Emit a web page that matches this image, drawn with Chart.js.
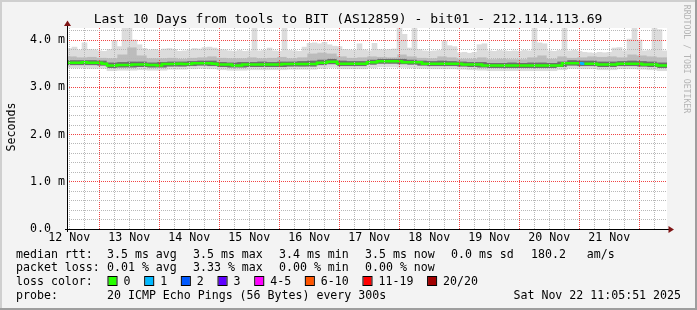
<!DOCTYPE html>
<html lang="en">
<head>
  <meta charset="UTF-8" />
  <title>Last 10 Days from tools to BIT (AS12859) - bit01</title>
  <script src="https://cdn.jsdelivr.net/npm/chart.js"></script>
  <style>
    html, body { margin: 0; padding: 0; background: #f3f3f3; }
    canvas { display: block; }
  </style>
</head>
<body>
  <canvas id="smokeCanvas" width="697" height="310"></canvas>

  <script>
    // 10 days, 12 Nov 11:05:51 -> 22 Nov 11:05:51, x axis in hours since start
    const totalHours = 240;
    const firstNoon = 0.9025; // 12 Nov 12:00 in hours after start
    const dayLabels = ['12 Nov', '13 Nov', '14 Nov', '15 Nov', '16 Nov', '17 Nov', '18 Nov', '19 Nov', '20 Nov', '21 Nov'];
    const yLabels = ['0.0', '1.0 m', '2.0 m', '3.0 m', '4.0 m'];

    // median rtt (ms), one value per 2 hours
    const medianMs = [
      3.52, 3.52, 3.52, 3.53, 3.52, 3.52, 3.52, 3.50, 3.46, 3.46,
      3.47, 3.47, 3.47, 3.48, 3.48, 3.48, 3.47, 3.47, 3.46, 3.49,
      3.49, 3.49, 3.50, 3.49, 3.49, 3.51, 3.51, 3.51, 3.51, 3.50,
      3.48, 3.48, 3.48, 3.46, 3.46, 3.48, 3.48, 3.48, 3.48, 3.48,
      3.48, 3.48, 3.48, 3.49, 3.49, 3.49, 3.49, 3.49, 3.49, 3.49,
      3.52, 3.52, 3.54, 3.54, 3.50, 3.50, 3.50, 3.50, 3.50, 3.50,
      3.53, 3.53, 3.55, 3.55, 3.55, 3.55, 3.55, 3.53, 3.53, 3.53,
      3.53, 3.50, 3.50, 3.50, 3.50, 3.50, 3.50, 3.50, 3.50, 3.48,
      3.48, 3.48, 3.48, 3.46, 3.46, 3.46, 3.46, 3.46, 3.46, 3.46,
      3.46, 3.46, 3.46, 3.46, 3.46, 3.46, 3.46, 3.46, 3.46, 3.51,
      3.51, 3.51, 3.51, 3.50, 3.50, 3.50, 3.48, 3.48, 3.48, 3.48,
      3.50, 3.50, 3.50, 3.50, 3.50, 3.48, 3.48, 3.48, 3.46, 3.46
    ];
    // highest ping (top of the smoke), one value per 2 hours
    const smokeMax = [
      3.82, 3.85, 3.79, 3.94, 3.80, 3.79, 3.77, 3.76, 3.80, 3.98,
      3.86, 4.30, 4.30, 4.00, 3.90, 3.82, 3.79, 3.80, 3.78, 3.81,
      3.82, 3.80, 3.76, 3.77, 3.79, 3.82, 3.81, 3.84, 3.85, 3.83,
      3.80, 3.79, 3.77, 3.76, 3.78, 3.76, 3.77, 4.28, 3.77, 3.78,
      3.83, 3.77, 3.76, 4.26, 3.78, 3.77, 3.76, 3.85, 3.93, 3.94,
      3.92, 3.95, 3.90, 3.87, 3.86, 3.80, 3.79, 3.78, 3.92, 3.79,
      3.77, 3.93, 3.80, 3.79, 3.80, 3.81, 4.28, 4.12, 3.83, 4.26,
      3.80, 3.77, 3.76, 3.77, 3.78, 3.97, 3.88, 3.86, 3.73, 3.74,
      3.72, 3.74, 3.90, 3.92, 3.77, 3.76, 3.78, 3.77, 3.76, 3.77,
      3.76, 3.78, 3.77, 4.27, 3.94, 3.92, 3.77, 3.76, 3.78, 4.27,
      3.77, 3.78, 3.76, 3.74, 3.73, 3.72, 3.74, 3.73, 3.74, 3.83,
      3.84, 3.77, 4.02, 4.26, 4.00, 3.77, 3.78, 4.27, 4.22, 3.77
    ];
    // smoke bands, one value per 4 hours
    const smokeMin = [
      3.41, 3.41, 3.40, 3.40, 3.35, 3.36, 3.36, 3.37, 3.36, 3.36,
      3.38, 3.38, 3.39, 3.40, 3.39, 3.37, 3.36, 3.36, 3.37, 3.37,
      3.37, 3.37, 3.38, 3.38, 3.38, 3.40, 3.42, 3.39, 3.39, 3.39,
      3.41, 3.43, 3.43, 3.42, 3.41, 3.40, 3.39, 3.39, 3.39, 3.38,
      3.37, 3.36, 3.35, 3.35, 3.35, 3.35, 3.35, 3.35, 3.35, 3.37,
      3.40, 3.39, 3.39, 3.37, 3.37, 3.39, 3.39, 3.38, 3.37, 3.35
    ];
    const darkLow = [
      3.46, 3.46, 3.46, 3.45, 3.40, 3.41, 3.41, 3.42, 3.41, 3.41,
      3.43, 3.43, 3.44, 3.45, 3.44, 3.42, 3.41, 3.41, 3.42, 3.42,
      3.42, 3.42, 3.43, 3.43, 3.43, 3.46, 3.48, 3.44, 3.44, 3.44,
      3.47, 3.49, 3.49, 3.48, 3.47, 3.45, 3.44, 3.44, 3.44, 3.43,
      3.42, 3.41, 3.40, 3.40, 3.40, 3.40, 3.40, 3.40, 3.40, 3.42,
      3.45, 3.44, 3.44, 3.42, 3.42, 3.44, 3.44, 3.43, 3.42, 3.40
    ];
    const darkHigh = [
      3.58, 3.58, 3.58, 3.57, 3.53, 3.54, 3.55, 3.55, 3.53, 3.54,
      3.55, 3.55, 3.56, 3.57, 3.57, 3.54, 3.53, 3.54, 3.54, 3.55,
      3.54, 3.55, 3.55, 3.56, 3.57, 3.59, 3.61, 3.57, 3.56, 3.56,
      3.59, 3.61, 3.61, 3.61, 3.59, 3.57, 3.56, 3.57, 3.56, 3.55,
      3.54, 3.54, 3.52, 3.52, 3.53, 3.52, 3.53, 3.53, 3.52, 3.55,
      3.58, 3.57, 3.57, 3.55, 3.55, 3.56, 3.57, 3.56, 3.55, 3.53
    ];
    const midHigh = [
      3.66, 3.64, 3.65, 3.63, 3.62, 3.70, 3.85, 3.68, 3.62, 3.62,
      3.63, 3.61, 3.63, 3.64, 3.66, 3.63, 3.62, 3.62, 3.64, 3.62,
      3.63, 3.65, 3.62, 3.64, 3.72, 3.74, 3.72, 3.66, 3.63, 3.64,
      3.66, 3.65, 3.64, 3.70, 3.66, 3.63, 3.62, 3.66, 3.64, 3.61,
      3.61, 3.64, 3.60, 3.61, 3.60, 3.60, 3.64, 3.68, 3.61, 3.66,
      3.63, 3.64, 3.66, 3.65, 3.66, 3.64, 3.70, 3.68, 3.66, 3.64
    ];
    // columns (2 h) where the median had lost pings
    const lossColumns = [102];
    const lossPings = [1];

    const lossLabels = ['0', '1', '2', '3', '4-5', '6-10', '11-19', '20/20'];
    const lossColors = ['#26ff00', '#00b8ff', '#0059ff', '#5e00ff', '#ff00ff', '#ff5500', '#ff0000', '#a10000'];
    const rttStats = ['3.5 ms avg', '3.5 ms max', '3.4 ms min', '3.5 ms now', '0.0 ms sd', '180.2   am/s'];
    const lossStats = ['0.01 % avg', '3.33 % max', '0.00 % min', '0.00 % now'];

    const MONO = '"DejaVu Sans Mono", monospace';
    const GRID = '#b8b8b8';
    const MGRID = '#f04444';

    // build the library's datasets from the arrays
    const light2h = smokeMax.map((v, i) => ({ x: i * 2 + 1, y: [midHigh[i >> 1], v] }));
    const lightLow = smokeMin.map((v, j) => ({ x: j * 4 + 2, y: [v, darkLow[j]] }));
    const midBand = midHigh.map((v, j) => ({ x: j * 4 + 2, y: [darkHigh[j], v] }));
    const darkBand = darkHigh.map((v, j) => ({ x: j * 4 + 2, y: [darkLow[j], v] }));

    const lossAt = {};
    lossColumns.forEach((c, k) => { lossAt[c] = lossPings[k]; });
    const medianPts = [{ x: 0, y: medianMs[0], loss: 0 }]
      .concat(medianMs.map((v, i) => ({ x: i * 2 + 1, y: v, loss: lossAt[i] || 0 })))
      .concat([{ x: totalHours, y: medianMs[medianMs.length - 1], loss: 0 }]);

    function lossColor(n) {
      if (n === 0) return lossColors[0];
      if (n <= 3) return lossColors[n];
      if (n <= 5) return lossColors[4];
      if (n <= 10) return lossColors[5];
      if (n <= 19) return lossColors[6];
      return lossColors[7];
    }

    // grid every 6 hours (midnight lines red), every 0.2 ms (whole ms red)
    const xTicks = [];
    for (let k = 0; firstNoon + k * 6 <= totalHours; k++) xTicks.push(firstNoon + k * 6);
    const yTicks = [];
    for (let k = 0; k <= 21; k++) yTicks.push(k / 5);

    function bandSet(data, color, width) {
      return { type: 'bar', data: data, backgroundColor: color, borderWidth: 0,
               grouped: false, barThickness: width, order: 2 };
    }

    const decorations = {
      id: 'decorations',
      beforeDraw(chart) {
        const c = chart.ctx, a = chart.chartArea;
        c.save();
        c.fillStyle = '#f3f3f3';
        c.fillRect(0, 0, 697, 310);
        c.fillStyle = '#cfcfcf';
        c.fillRect(0, 0, 697, 2);
        c.fillRect(0, 0, 2, 310);
        c.fillStyle = '#9e9e9e';
        c.fillRect(695, 0, 2, 310);
        c.fillRect(0, 308, 697, 2);
        c.fillStyle = '#ffffff';
        c.fillRect(a.left, a.top, a.right - a.left, a.bottom - a.top);
        c.restore();
      },
      afterDraw(chart) {
        const c = chart.ctx, a = chart.chartArea;
        c.save();
        // axes with arrows
        c.strokeStyle = '#000';
        c.lineWidth = 1;
        c.beginPath();
        c.moveTo(a.left + 0.5, a.bottom + 3);
        c.lineTo(a.left + 0.5, 25);
        c.moveTo(a.left - 2, a.bottom + 0.5);
        c.lineTo(a.right + 2, a.bottom + 0.5);
        c.stroke();
        c.fillStyle = '#7f1515';
        c.beginPath();
        c.moveTo(a.left + 0.5, 20.5);
        c.lineTo(a.left - 3, 26);
        c.lineTo(a.left + 4, 26);
        c.closePath();
        c.fill();
        c.beginPath();
        c.moveTo(a.right + 7, a.bottom + 0.5);
        c.lineTo(a.right + 1.5, a.bottom - 3);
        c.lineTo(a.right + 1.5, a.bottom + 4);
        c.closePath();
        c.fill();

        // title
        c.fillStyle = '#000';
        c.font = '13px ' + MONO;
        c.textAlign = 'center';
        c.textBaseline = 'alphabetic';
        c.fillText('Last 10 Days from tools to BIT (AS12859) - bit01 - 212.114.113.69', 348, 23);

        // vertical axis title
        c.font = '11.6px ' + MONO;
        c.save();
        c.translate(15, 127);
        c.rotate(-Math.PI / 2);
        c.fillText('Seconds', 0, 0);
        c.restore();

        // watermark
        c.save();
        c.fillStyle = '#b4b4b4';
        c.font = '8.2px ' + MONO;
        c.translate(684, 59);
        c.rotate(Math.PI / 2);
        c.fillText('RRDTOOL / TOBI OETIKER', 0, 0);
        c.restore();

        // legend text
        c.textAlign = 'left';
        c.font = '11.6px ' + MONO;
        const cols = [107, 193, 279, 365, 451, 531];
        c.fillText('median rtt:', 16, 258);
        rttStats.forEach((s, i) => c.fillText(s, cols[i], 258));
        c.fillText('packet loss:', 16, 271);
        lossStats.forEach((s, i) => c.fillText(s, cols[i], 271));
        c.fillText('loss color:', 16, 285);
        let x = 108.5;
        lossLabels.forEach((lab, i) => {
          c.fillStyle = lossColors[i];
          c.fillRect(x, 277, 8, 8);
          c.strokeStyle = '#000';
          c.strokeRect(x - 0.5, 276.5, 9, 9);
          c.fillStyle = '#000';
          c.fillText(lab, x + 15, 285);
          x += 15 + c.measureText(lab).width + 14.7;
        });
        c.fillText('probe:', 16, 299);
        c.fillText('20 ICMP Echo Pings (56 Bytes) every 300s', 107, 299);
        c.textAlign = 'right';
        c.fillText('Sat Nov 22 11:05:51 2025', 681, 299);
        c.restore();
      }
    };

    Chart.defaults.font.family = MONO;
    Chart.defaults.color = '#000';

    const chart = new Chart(document.getElementById('smokeCanvas'), {
      type: 'bar',
      data: {
        datasets: [
          {
            type: 'line',
            data: medianPts,
            borderColor: lossColors[0],
            borderWidth: 2.5,
            pointRadius: 0,
            stepped: 'middle',
            order: 0,
            segment: {
              borderColor: ctx => lossColor(medianPts[ctx.p0DataIndex].loss)
            }
          },
          bandSet(light2h, '#dcdcdc', 5),
          bandSet(lightLow, '#dcdcdc', 10),
          bandSet(midBand, '#bcbcbc', 10),
          bandSet(darkBand, '#6e6e6e', 10)
        ]
      },
      options: {
        responsive: false,
        animation: false,
        layout: { padding: { left: 30, right: 30, top: 28, bottom: 0 } },
        plugins: {
          legend: { display: false },
          tooltip: { enabled: false }
        },
        scales: {
          x: {
            type: 'linear',
            min: 0,
            max: totalHours,
            offset: false,
            afterBuildTicks: s => { s.ticks = xTicks.map(v => ({ value: v })); },
            afterFit: s => { s.height = 81; },
            grid: {
              z: 1,
              offset: false,
              drawTicks: false,
              color: c => (c.index % 4 === 2 ? MGRID : GRID)
            },
            border: { display: false, dash: [1, 1] },
            ticks: {
              autoSkip: false,
              maxRotation: 0,
              padding: 2,
              font: { size: 11.6, family: MONO },
              callback: (v, i) => (i % 4 === 0 ? dayLabels[i / 4] : '')
            }
          },
          y: {
            min: 0,
            max: 4.254,
            afterBuildTicks: s => { s.ticks = yTicks.map(v => ({ value: v })); },
            afterFit: s => { s.width = 37; },
            grid: {
              z: 1,
              offset: false,
              drawTicks: false,
              color: c => (c.index % 5 === 0 ? MGRID : GRID)
            },
            border: { display: false, dash: [1, 1] },
            ticks: {
              autoSkip: false,
              crossAlign: 'far',
              font: { size: 11.6, family: MONO },
              callback: v => (Math.abs(v - Math.round(v)) < 1e-6 ? yLabels[Math.round(v)] : '')
            }
          }
        }
      },
      plugins: [decorations]
    });
  </script>
</body>
</html>
